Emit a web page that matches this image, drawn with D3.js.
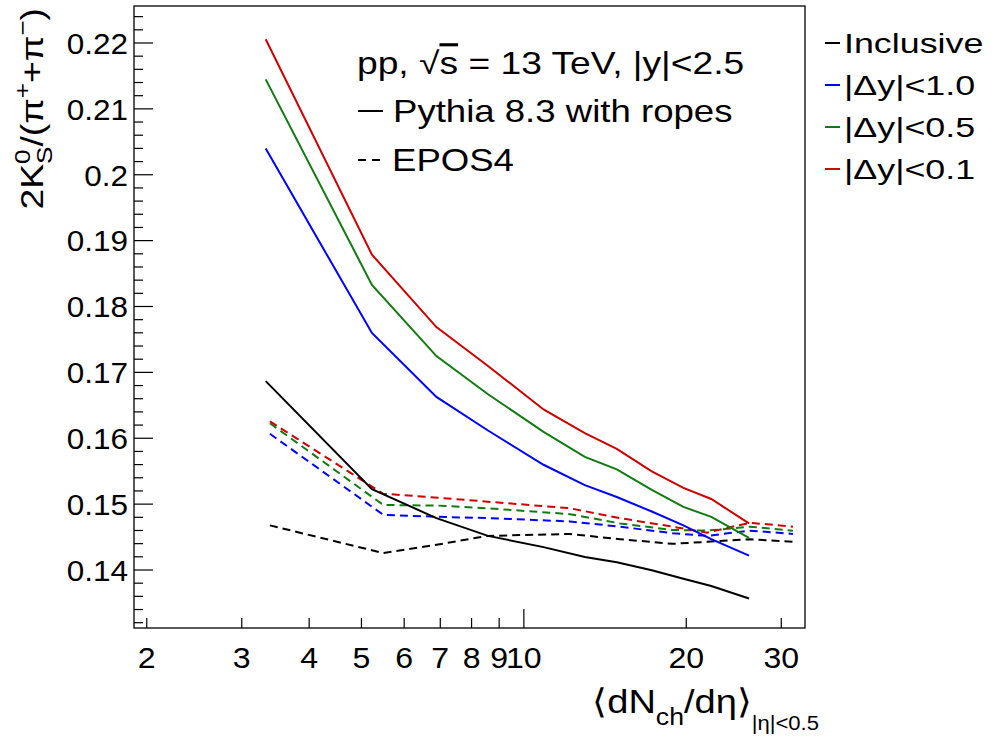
<!DOCTYPE html>
<html lang="en">
<head>
    <meta charset="UTF-8">
    <title>K0S / pi ratio vs multiplicity</title>
    <script type="text/javascript" src="https://cdn.jsdelivr.net/npm/d3@7/dist/d3.min.js"></script>
    <style>
        body { margin: 0; background: #fff; }
        text { font-family: "Liberation Sans", Arial, Helvetica, sans-serif; fill: #000; }
    </style>
</head>
<body>
<script type="text/javascript">
    const width = 998, height = 737;
    const frameL = 134, frameR = 805, frameT = 6, frameB = 628;

    // data
    const pythiaX = [3.33, 5.24, 6.9, 8.6, 10.9, 13.0, 14.9, 17.3, 19.8, 22.3, 26.2];
    const pythiaIncl = [0.1686, 0.1522, 0.1478, 0.1451, 0.1434, 0.1419, 0.1411, 0.1399, 0.1386, 0.1375, 0.1356];
    const pythiaDy10 = [0.2039, 0.1759, 0.1662, 0.1611, 0.1559, 0.1528, 0.1510, 0.1488, 0.1467, 0.1446, 0.1421];
    const pythiaDy05 = [0.2144, 0.1832, 0.1724, 0.1666, 0.1609, 0.1571, 0.1552, 0.1521, 0.1495, 0.1480, 0.1448];
    const pythiaDy01 = [0.2205, 0.1878, 0.1768, 0.1709, 0.1643, 0.1607, 0.1583, 0.1549, 0.1524, 0.1507, 0.1470];

    const eposX = [3.39, 5.50, 6.95, 8.58, 12.2, 15.1, 18.9, 21.9, 26.3, 31.6];
    const eposIncl = [0.1467, 0.1425, 0.1438, 0.1451, 0.1454, 0.1446, 0.1439, 0.1442, 0.1446, 0.1442];
    const eposDy10 = [0.1606, 0.1483, 0.1480, 0.1478, 0.1473, 0.1465, 0.1455, 0.1451, 0.1459, 0.1454];
    const eposDy05 = [0.1622, 0.1498, 0.1497, 0.1493, 0.1484, 0.1470, 0.1460, 0.1459, 0.1465, 0.1459];
    const eposDy01 = [0.1625, 0.1515, 0.1509, 0.1503, 0.1493, 0.1478, 0.1465, 0.1456, 0.1471, 0.1465];

    const xTicks = [2, 3, 4, 5, 6, 7, 8, 9, 10, 20, 30];
    const yTicks = [0.14, 0.15, 0.16, 0.17, 0.18, 0.19, 0.2, 0.21, 0.22];
    const legendNames = ['Inclusive', '|\u0394y|<1.0', '|\u0394y|<0.5', '|\u0394y|<0.1'];
    const colors = ['#000000', '#0000ff', '#117a11', '#cc0000'];

    const svg = d3.select('body').append('svg')
        .attr('width', width)
        .attr('height', height);
    svg.append('rect').attr('width', width).attr('height', height).attr('fill', '#fff');

    const x = d3.scaleLog().domain([1.898, 33.27]).range([frameL, frameR]);
    const y = d3.scaleLinear().domain([0.13112, 0.22554]).range([frameB, frameT]);

    // rich text: pieces laid out one after another, optional stacked sup/sub
    function rich(g, parts, size) {
        let pos = 0;
        for (let i = 0; i < parts.length; i++) {
            const p = parts[i];
            const t = g.append('text').attr('x', pos).attr('y', (p.dy || 0) * size)
                .style('font-size', size * (p.s || 1) + 'px').text(p.t);
            let w = t.node().getComputedTextLength();
            if (p.stack) {
                const q = parts[++i];
                const t2 = g.append('text').attr('x', pos).attr('y', (q.dy || 0) * size)
                    .style('font-size', size * (q.s || 1) + 'px').text(q.t);
                w = Math.max(w, t2.node().getComputedTextLength());
            }
            pos += w;
        }
        return pos;
    }

    // axes
    const yAxis = d3.axisLeft(y).tickValues(yTicks).tickSize(-19).tickPadding(6)
        .tickFormat(d => d3.format('.2~f')(d));
    const gy = svg.append('g').attr('transform', 'translate(' + frameL + ',0)').call(yAxis);
    const yMinor = d3.range(0.132, 0.2256, 0.002).filter(v => Math.abs(v * 100 - Math.round(v * 100)) > 1e-6);
    svg.append('g').attr('transform', 'translate(' + frameL + ',0)')
        .call(d3.axisLeft(y).tickValues(yMinor).tickSize(-9).tickFormat(''));

    const xAxis = d3.axisBottom(x).tickValues(xTicks).tickSize(-10).tickPadding(19)
        .tickFormat(d3.format('d'));
    const gx = svg.append('g').attr('transform', 'translate(0,' + frameB + ')').call(xAxis);
    gx.selectAll('.tick line').filter(d => d === 10).attr('y2', -19);

    svg.selectAll('.domain').remove();
    svg.selectAll('.tick line').attr('stroke', '#000').attr('stroke-width', 1.2);
    gy.selectAll('.tick text')
        .attr('x', null).attr('dy', '0.36em')
        .attr('transform', 'translate(-6,0) scale(1.05,1)')
        .style('font-size', '30px');
    gx.selectAll('.tick text')
        .attr('transform', 'scale(1.07,1)')
        .style('font-size', '30px');
    svg.selectAll('.tick text').attr('font-family', null).attr('font-size', null);

    // frame
    svg.append('rect')
        .attr('x', frameL).attr('y', frameT)
        .attr('width', frameR - frameL).attr('height', frameB - frameT)
        .attr('fill', 'none').attr('stroke', '#000').attr('stroke-width', 1.3);

    // curves
    const line = d3.line().x(d => x(d[0])).y(d => y(d[1]));
    const plot = svg.append('g');
    const epos = [eposIncl, eposDy10, eposDy05, eposDy01];
    const pythia = [pythiaIncl, pythiaDy10, pythiaDy05, pythiaDy01];
    epos.forEach(function (vals, i) {
        plot.append('path')
            .attr('d', line(eposX.map((v, j) => [v, vals[j]])))
            .attr('fill', 'none').attr('stroke', colors[i])
            .attr('stroke-width', 2).attr('stroke-dasharray', '8,5');
    });
    pythia.forEach(function (vals, i) {
        plot.append('path')
            .attr('d', line(pythiaX.map((v, j) => [v, vals[j]])))
            .attr('fill', 'none').attr('stroke', colors[i])
            .attr('stroke-width', 2);
    });

    // y title
    const yt = svg.append('g').attr('transform', 'translate(43,8) rotate(-90) scale(1.2,1)');
    const ytIn = yt.append('g');
    const ytw = rich(ytIn, [
        {t: '2K'},
        {t: '0', s: 0.7, dy: -0.42, stack: true}, {t: 'S', s: 0.7, dy: 0.28},
        {t: '/('}, {t: '\u03c0'}, {t: '+', s: 0.7, dy: -0.42},
        {t: '+'}, {t: '\u03c0'}, {t: '\u2212', s: 0.7, dy: -0.42}, {t: ')'}
    ], 31);
    ytIn.attr('transform', 'translate(' + (-ytw) + ',0)');

    // x title
    const xt = svg.append('g').attr('transform', 'translate(819,713) scale(1.12,1)');
    const xtIn = xt.append('g');
    const xtw = rich(xtIn, [
        {t: '\u27e8'}, {t: 'dN'}, {t: 'ch', s: 0.7, dy: 0.35},
        {t: '/d\u03b7'}, {t: '\u27e9'}, {t: '|\u03b7|<0.5', s: 0.58, dy: 0.5}
    ], 34);
    xtIn.attr('transform', 'translate(' + (-xtw) + ',0)');

    // text box in the plot
    const box = svg.append('g').attr('transform', 'translate(357,0)');
    const l1 = box.append('g').attr('transform', 'translate(0,74) scale(1.2,1)');
    l1.append('text').style('font-size', '31px')
        .html('pp, \u221a<tspan style="text-decoration: overline">s</tspan> = 13 TeV, |y|&lt;2.5');
    box.append('line').attr('x1', 1).attr('x2', 26).attr('y1', 111).attr('y2', 111)
        .attr('stroke', '#000').attr('stroke-width', 2);
    box.append('g').attr('transform', 'translate(36,122) scale(1.18,1)')
        .append('text').style('font-size', '31px').text('Pythia 8.3 with ropes');
    box.append('line').attr('x1', 1).attr('x2', 24).attr('y1', 160).attr('y2', 160)
        .attr('stroke', '#000').attr('stroke-width', 2).attr('stroke-dasharray', '8,6');
    box.append('g').attr('transform', 'translate(35,171) scale(1.18,1)')
        .append('text').style('font-size', '31px').text('EPOS4');

    // right legend
    const leg = svg.append('g').attr('transform', 'translate(825,0)');
    legendNames.forEach(function (name, i) {
        const cy = 43 + i * 42;
        leg.append('line').attr('x1', 0).attr('x2', 15).attr('y1', cy).attr('y2', cy)
            .attr('stroke', colors[i]).attr('stroke-width', 2);
        leg.append('g').attr('transform', 'translate(19,' + (cy + 10) + ') scale(1.28,1)')
            .append('text').style('font-size', '28px').text(name);
    });
</script>
</body>
</html>
